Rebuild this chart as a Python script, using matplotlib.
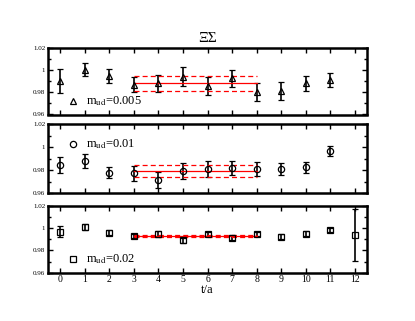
import numpy as np
import matplotlib
matplotlib.use("Agg")
import matplotlib.pyplot as plt
from matplotlib.ticker import MultipleLocator

plt.rcParams['font.family'] = ['Liberation Serif', 'DejaVu Serif']
plt.rcParams['mathtext.fontset'] = 'stix'

t = np.arange(13)

# m_ud = 0.005
y1 = [0.990, 1.0006, 0.995, 0.987, 0.988, 0.994, 0.986, 0.9925, 0.980, 0.981, 0.988, 0.991]
e1 = [0.011, 0.006, 0.0065, 0.007, 0.008, 0.0085, 0.008, 0.008, 0.008, 0.008, 0.007, 0.006]
fit1, fite1 = 0.988, 0.0068

# m_ud = 0.01
y2 = [0.985, 0.988, 0.978, 0.9775, 0.9715, 0.9797, 0.981, 0.982, 0.981, 0.981, 0.9825, 0.997]
e2 = [0.007, 0.006, 0.005, 0.0065, 0.007, 0.007, 0.007, 0.006, 0.006, 0.0055, 0.0047, 0.0045]
fit2, fite2 = 0.9792, 0.0053

# m_ud = 0.02
y3 = [0.997, 1.0012, 0.996, 0.9931, 0.995, 0.989, 0.995, 0.9916, 0.995, 0.9925, 0.9952, 0.9985, 0.994]
e3 = [0.0048, 0.0027, 0.002, 0.002, 0.0025, 0.002, 0.002, 0.0025, 0.002, 0.002, 0.002, 0.002, 0.0236]
fit3, fite3 = 0.993, 0.0013

fit_range = [3, 8]

series = [
    (y1, e1, '^', '0.005', fit1, fite1),
    (y2, e2, 'o', '0.01', fit2, fite2),
    (y3, e3, 's', '0.02', fit3, fite3),
]

fig = plt.figure(figsize=(4.15, 3.21), dpi=100)
W, H = 415, 321
boxes = [(48, 48, 114.5), (48, 124.3, 193.3), (48, 206, 272.7)]

for i, ((y, e, m, lab, f, fe), (l, top, bot)) in enumerate(zip(series, boxes)):
    ax = fig.add_axes([l / W, 1 - bot / H, (367 - l) / W, (bot - top) / H])
    tt = t[:len(y)]
    ax.errorbar(tt, y, yerr=e, fmt=m, mfc='none', mec='black', ms=4.5, mew=0.9,
                ecolor='black', elinewidth=1.2, capsize=2.3, capthick=1.2)
    ax.plot(fit_range, [f, f], color='red', lw=0.9)
    ax.plot(fit_range, [f + fe, f + fe], color='red', lw=0.9, ls=(0, (4, 2.5)))
    ax.plot(fit_range, [f - fe, f - fe], color='red', lw=0.9, ls=(0, (4, 2.5)))

    # legend text
    ly = [0.9725, 1.003, 0.972][i]
    ax.plot([0.5], [ly], m, mfc='none', mec='black', ms=4.5, mew=0.9)
    ax.text(1.05, ly, r'm$_{\rm ud}$=' + lab, fontsize=9, va='center', ha='left')

    ax.set_xlim(-0.5, 12.5)
    ax.set_ylim(0.96, 1.02)
    ax.xaxis.set_major_locator(MultipleLocator(1))
    ax.yaxis.set_minor_locator(MultipleLocator(0.01))
    ax.set_yticks([0.96, 0.98, 1.0, 1.02])
    ax.set_yticklabels(['0.96', '0.98', '1', '1.02'])
    ax.tick_params(which='both', direction='in', top=True, right=True, width=1.0)
    ax.tick_params(which='major', length=3.5)
    ax.tick_params(which='minor', length=2)
    ax.tick_params(axis='y', labelsize=5, pad=2)
    ax.tick_params(axis='x', labelsize=7, pad=2)
    for s in ax.spines.values():
        s.set_linewidth(1.8)
    if i < 2:
        ax.set_xticklabels([])
    else:
        ax.set_xlabel('t/a', fontsize=9, labelpad=0)
    if i == 0:
        ax.set_title('ΞΣ', fontsize=11, pad=4)

fig.savefig('out.png', dpi=100)
